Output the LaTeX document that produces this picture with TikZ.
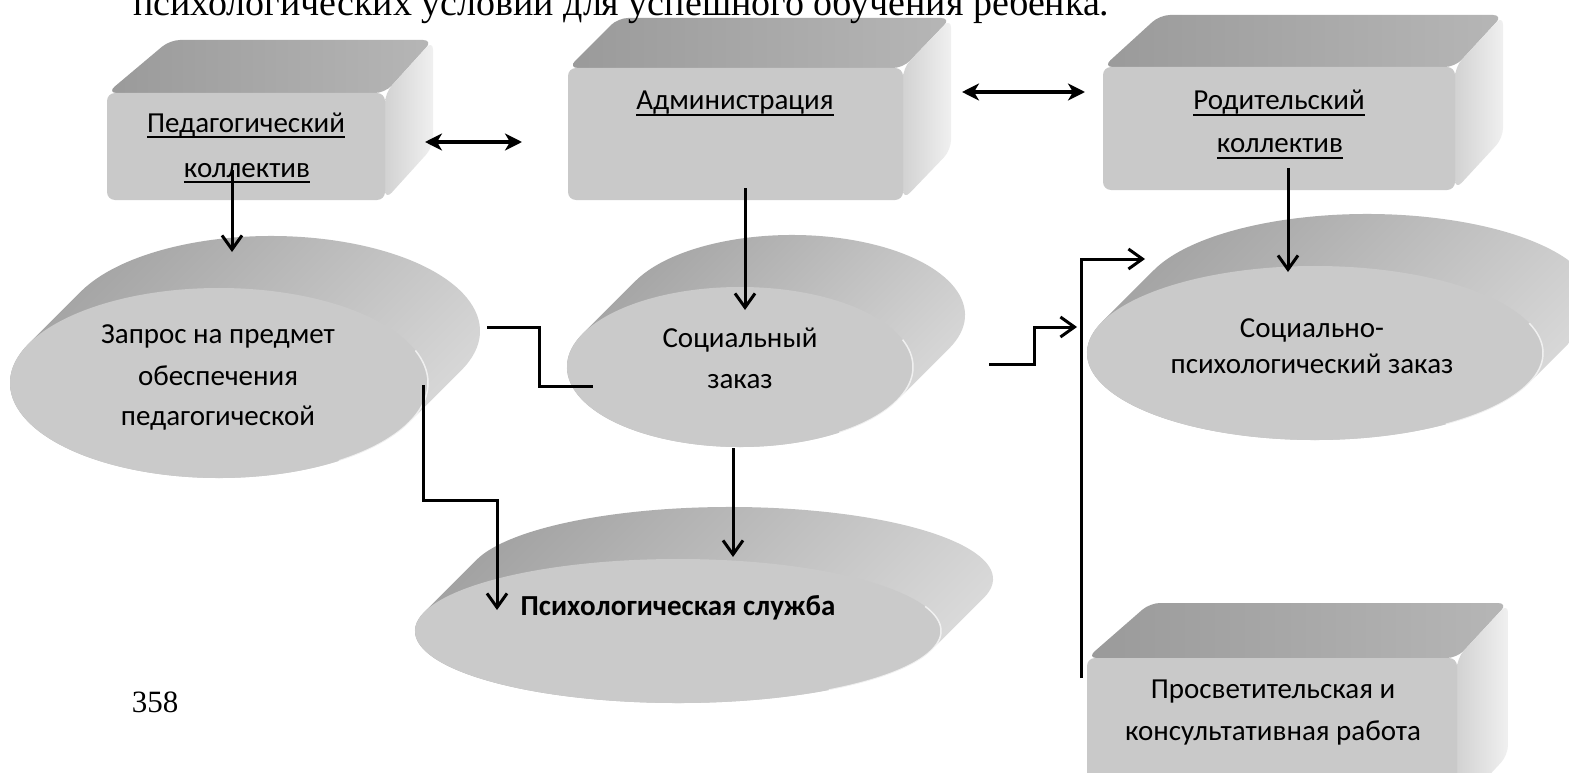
\documentclass[tikz,border=0pt]{standalone}
\usepackage{fontspec}
\setmainfont{Carlito}
\newfontfamily\serifface{Liberation Serif}
\usetikzlibrary{arrows.meta,calc}
\definecolor{topA}{HTML}{9A9A9A}
\definecolor{topB}{HTML}{B6B6B6}
\definecolor{sideA}{HTML}{D2D2D2}
\definecolor{sideB}{HTML}{F0F0F0}
\definecolor{frontC}{HTML}{C9C9C9}
\definecolor{discA}{HTML}{A0A0A0}
\definecolor{discB}{HTML}{DCDCDC}
\definecolor{discF}{HTML}{CACACA}
\newsavebox{\ulbox}
\newcommand{\myul}[1]{\sbox{\ulbox}{#1}\makebox[0pt][l]{\rule[-6.5pt]{\wd\ulbox}{2.4pt}}\usebox{\ulbox}}
% box: x1, y1(top), x2, y2(bottom), back-left x, back-right x, back y  (pixel coords, y down)
\newcommand{\boxcube}[7]{%
  \shade[left color=topA, right color=topB, rounded corners=10pt]
    (#1,-#2) -- (#5,-#7) -- (#6,-#7) -- (#3,-#2) -- cycle;
  \shade[left color=sideA, right color=sideB, rounded corners=10pt]
    (#3,-#2) -- (#6,-#7) -- (#6,{-(#4)+(#2)-(#7)}) -- (#3,-#4) -- cycle;
  \fill[frontC, rounded corners=8pt] (#1,-#2) rectangle (#3,-#4);
}
% disc: cx, cy(down), rx, ry ; depth (52,52)
\newcommand{\discshape}[4]{%
  \pgfmathsetmacro\tz{atan(#4/#3)}%
  \shade[top color=discA, bottom color=discB, shading angle=45]
    ({#1+#3*cos(\tz)},{-#2-#4*sin(\tz)})
    arc[start angle=-\tz, end angle={-180-\tz}, x radius=#3pt, y radius=#4pt]
    -- ++(52pt,52pt)
    arc[start angle={180-\tz}, end angle=-\tz, x radius=#3pt, y radius=#4pt] -- cycle;
  \fill[discF] (#1,-#2) ellipse[x radius=#3pt, y radius=#4pt];
  \draw[white, opacity=0.7, line width=1.5pt] ({#1+#3*cos(55)},{-#2-#4*sin(55)})
    arc[start angle=-55, end angle=20, x radius=#3pt, y radius=#4pt];
}
\tikzset{
  txt/.style={inner sep=0pt, font=\fontsize{29}{35}\selectfont},
  conn/.style={line width=3pt, draw=black},
  arr/.style={conn, -{Straight Barb[length=14pt,width=20pt]}},
  dbl/.style={line width=3.8pt, {Stealth[length=17pt,width=17pt,inset=5pt]}-{Stealth[length=17pt,width=17pt,inset=5pt]}}
}
\begin{document}
\begin{tikzpicture}[x=1pt,y=1pt]
\useasboundingbox (0,0) rectangle (1569,-773);
\fill[white] (0,0) rectangle (1569,-773);
\clip (0,0) rectangle (1569,-773);

% boxes
\boxcube{107}{93}{385}{200}{170}{433}{40}
\boxcube{568}{68}{903}{200}{618}{951}{18}
\boxcube{1103}{67}{1455}{190}{1160}{1503}{15}
\boxcube{1087}{658}{1457}{810}{1150}{1508}{603}

% discs
\discshape{219}{383}{209}{95}
\discshape{740}{367}{173}{80}
\discshape{1315}{353}{228}{87}
\discshape{678}{631}{263}{72}

% texts
\node[txt, anchor=base] (ped1) at (246,-132) {\myul{Педагогический}};
\node[txt, anchor=base] (ped2) at (247,-177) {\myul{коллектив}};
\node[txt, anchor=base] (adm) at (735,-110) {\myul{Администрация}};
\node[txt, anchor=base] (rod1) at (1279,-110) {\myul{Родительский}};
\node[txt, anchor=base] (rod2) at (1280,-153) {\myul{коллектив}};
\node[txt, anchor=base] (zap1) at (218,-343) {Запрос на предмет};
\node[txt, anchor=base] (zap2) at (218,-385) {обеспечения};
\node[txt, anchor=base] (zap3) at (218,-425) {педагогической};
\node[txt, anchor=base] (soc1) at (740,-347) {Социальный};
\node[txt, anchor=base] (soc2) at (740,-388) {заказ};
\node[txt, anchor=base] (sp1) at (1312,-337) {Социально-};
\node[txt, anchor=base] (sp2) at (1312,-373) {психологический заказ};
\node[txt, anchor=base, font=\fontsize{29}{35}\selectfont\bfseries] (psy) at (678,-615) {Психологическая служба};
\node[txt, anchor=base] (pr1) at (1273,-698) {Просветительская и};
\node[txt, anchor=base] (pr2) at (1273,-740) {консультативная работа};
\node[inner sep=0pt, anchor=base, font=\serifface\fontsize{31}{35}\selectfont] (num) at (155,-712) {358};
\node[inner sep=0pt, anchor=base west, font=\serifface\fontsize{38}{42}\selectfont] (title) at (133,-16) {психологических условий для успешного обучения ребенка.};

% connector points
\coordinate (c1a) at (232,-170); \coordinate (c1b) at (232,-252);
\coordinate (d1a) at (425,-142); \coordinate (d1b) at (522,-142);
\coordinate (d2a) at (962,-92);  \coordinate (d2b) at (1085,-92);
\coordinate (c2a) at (745,-188); \coordinate (c2b) at (745,-310);
\coordinate (c3a) at (1288,-168); \coordinate (c3b) at (1288,-272);
\coordinate (k4a) at (487,-327); \coordinate (k4b) at (593,-386);
\coordinate (k5a) at (423,-385); \coordinate (k5m) at (497,-500); \coordinate (k5b) at (497,-610);
\coordinate (c6a) at (733,-448); \coordinate (c6b) at (733,-557);
\coordinate (k7a) at (989,-364); \coordinate (k7b) at (1077,-327);
\coordinate (k8a) at (1081,-678); \coordinate (k8b) at (1145,-259);

% connectors
\draw[arr] (c1a) -- (c1b);
\draw[dbl] (d1a) -- (d1b);
\draw[dbl] (d2a) -- (d2b);
\draw[arr] (c2a) -- (c2b);
\draw[arr] (c3a) -- (c3b);
\draw[conn] (k4a) -- ++(52,0) |- (k4b);
\draw[arr] (k5a) |- (k5m) -- (k5b);
\draw[arr] (c6a) -- (c6b);
\draw[arr] (k7a) -- ++(45,0) |- (k7b);
\draw[arr] (k8a) |- (k8b);
\end{tikzpicture}
\end{document}
